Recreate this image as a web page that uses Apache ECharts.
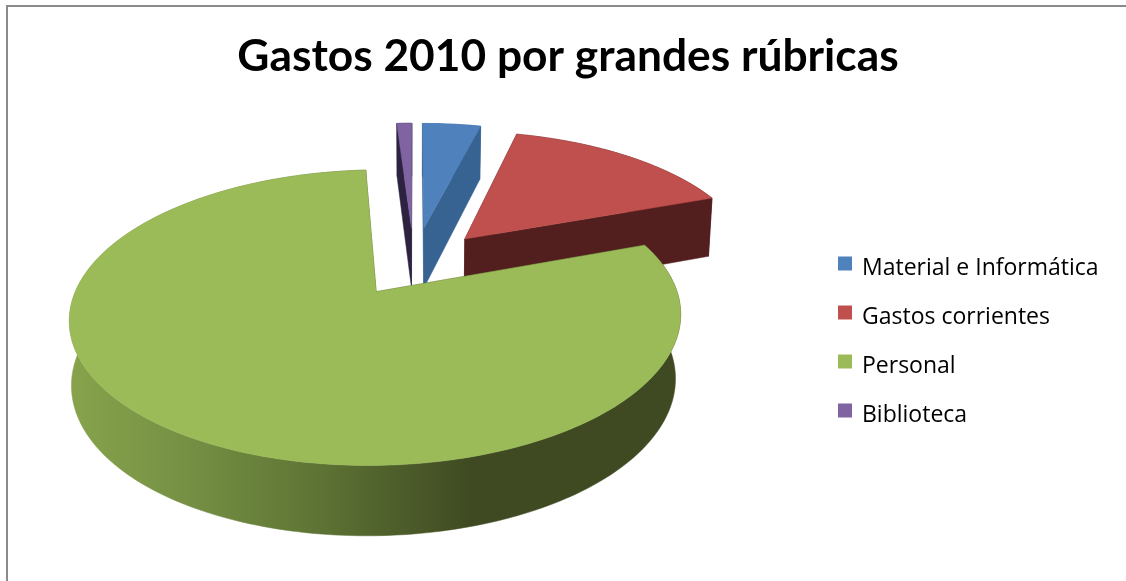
<!DOCTYPE html>
<html>
<head>
<meta charset="utf-8">
<style>html,body{margin:0;padding:0;background:#fff}#c{width:1126px;height:581px}</style>
<script src="https://cdn.jsdelivr.net/npm/echarts@6/dist/echarts.min.js"></script>
</head>
<body>
<div id="c"></div>
<script>
const titleText = 'Gastos 2010 por grandes rúbricas';
const categories = ['Material e Informática', 'Gastos corrientes', 'Personal', 'Biblioteca'];
const values = [3.9, 15.5, 79.6, 1.0];
const faceColors = ['#4f81bd', '#c0504d', '#9bbb59', '#8064a2'];
const wallColors = ['#376392', '#521e1e', '#3f4a22', '#2d2340'];
const explosion = [0.29, 0.27, 0.23, 0.29];
const drawOrder = [2, 3, 4, 1];

const total = values.reduce((a, b) => a + b, 0);
const CX = 414, CY = 265, RX = 291, RY = 134, K = 0.17;

function proj(u, v, down, shiftX) {
  const w = 1 - K * v;
  const shrink = down ? 0.988 : 1;
  const d = down ? 62 + 7 * v : 0;
  return [CX - (down ? shiftX : 0) + shrink * RX * u / w, CY + RY * v / w + d];
}
function sliceAngles(i) {
  let s = 0;
  for (let j = 0; j < i; j++) s += values[j];
  return [s / total * 2 * Math.PI, (s + values[i]) / total * 2 * Math.PI];
}
function renderSlice(index) {
  return function (params, api) {
    const val = api.value(0);
    const [a0, a1] = sliceAngles(index);
    const mid = (a0 + a1) / 2, e = explosion[index];
    const ou = e * Math.sin(mid), ov = -e * Math.cos(mid);
    const n = Math.max(6, Math.round(val * 3));
    const isMain = index === 2;
    const shiftX = isMain ? 2 : 0;
    const rim = [];
    for (let i = 0; i <= n; i++) {
      const t = a0 + (a1 - a0) * i / n;
      rim.push([ou + Math.sin(t), ov - Math.cos(t)]);
    }
    const top = rim.map(p => proj(p[0], p[1], false, shiftX));
    const bot = rim.map(p => proj(p[0], p[1], true, shiftX));
    const apexT = proj(ou, ov, false, shiftX), apexB = proj(ou, ov, true, shiftX);
    const wall = wallColors[index];
    const arcFill = isMain
      ? new echarts.graphic.LinearGradient(75, 0, 470, 0, [
          { offset: 0, color: '#87a24b' },
          { offset: 0.3, color: '#748f43' },
          { offset: 0.6, color: '#5f7535' },
          { offset: 1, color: wall }
        ], true)
      : wall;
    const poly = (points, fill) => ({
      type: 'polygon',
      shape: { points },
      style: { fill, stroke: fill, lineWidth: 0.5 }
    });
    const last = top.length - 1;
    return {
      type: 'group',
      children: [
        poly(top.concat(bot.slice().reverse()), arcFill),
        poly([top[0], apexT, apexB, bot[0]], wall),
        poly([top[last], apexT, apexB, bot[last]], wall),
        poly([apexT].concat(top), faceColors[index])
      ]
    };
  };
}

const chart = echarts.init(document.getElementById('c'), null, { renderer: 'canvas' });
chart.setOption({
  animation: false,
  backgroundColor: '#ffffff',
  color: faceColors,
  title: {
    text: titleText,
    left: 563,
    top: 30,
    textAlign: 'center',
    textStyle: { fontFamily: 'Lato', fontWeight: 'bold', fontSize: 44.3, color: '#000000' }
  },
  legend: {
    orient: 'vertical',
    left: 838,
    top: 247,
    padding: 0,
    icon: 'rect',
    itemWidth: 14,
    itemHeight: 14,
    itemGap: 16,
    data: categories,
    selectedMode: false,
    formatter: name => '{t|' + name + '}',
    textStyle: {
      color: '#000000',
      rich: { t: { fontFamily: 'Open Sans', fontSize: 23, color: '#000000', lineHeight: 28, padding: [10, 0, 0, 5] } }
    }
  },
  graphic: [{
    type: 'polyline',
    silent: true,
    shape: { points: [[7, 581], [7, 6], [1126, 6]] },
    style: { stroke: '#8a8a8a', lineWidth: 2, fill: null }
  }],
  series: categories.map((name, i) => ({
    type: 'custom',
    name,
    coordinateSystem: 'none',
    z: drawOrder[i],
    itemStyle: { color: faceColors[i] },
    renderItem: renderSlice(i),
    data: [[values[i]]],
    silent: true
  }))
});
</script>
</body>
</html>
